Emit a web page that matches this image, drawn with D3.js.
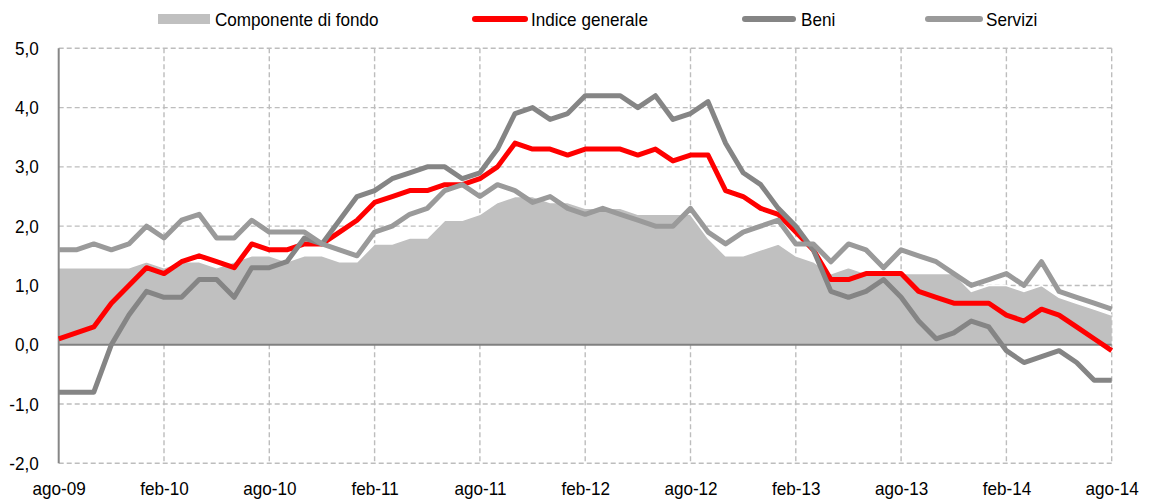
<!DOCTYPE html>
<html>
<head>
<meta charset="utf-8">
<script src="https://cdn.jsdelivr.net/npm/d3@7"></script>
<style>
  html, body { margin: 0; padding: 0; background: #fff; }
  svg { display: block; }
  text { font-family: "Liberation Sans", Arial, sans-serif; fill: #000; }
</style>
</head>
<body>
<svg id="chart" width="1155" height="503"></svg>
<script>
// ---- data ----
const months = [
  "2009-08","2009-09","2009-10","2009-11","2009-12",
  "2010-01","2010-02","2010-03","2010-04","2010-05","2010-06","2010-07","2010-08","2010-09","2010-10","2010-11","2010-12",
  "2011-01","2011-02","2011-03","2011-04","2011-05","2011-06","2011-07","2011-08","2011-09","2011-10","2011-11","2011-12",
  "2012-01","2012-02","2012-03","2012-04","2012-05","2012-06","2012-07","2012-08","2012-09","2012-10","2012-11","2012-12",
  "2013-01","2013-02","2013-03","2013-04","2013-05","2013-06","2013-07","2013-08","2013-09","2013-10","2013-11","2013-12",
  "2014-01","2014-02","2014-03","2014-04","2014-05","2014-06","2014-07","2014-08"
];
const componenteDiFondo = [
  1.3,1.3,1.3,1.3,1.3,1.4,1.3,1.4,1.4,1.3,1.4,1.5,1.5,1.4,1.5,1.5,1.4,1.4,1.7,1.7,1.8,
  1.8,2.1,2.1,2.2,2.4,2.5,2.5,2.4,2.4,2.3,2.3,2.3,2.2,2.2,2.2,2.2,1.8,1.5,1.5,1.6,
  1.7,1.5,1.4,1.2,1.3,1.2,1.2,1.2,1.2,1.2,1.2,0.9,1.0,1.0,0.9,1.0,0.8,0.7,0.6,0.5
];
const indiceGenerale = [
  0.1,0.2,0.3,0.7,1.0,1.3,1.2,1.4,1.5,1.4,1.3,1.7,1.6,1.6,1.7,1.7,1.9,2.1,2.4,2.5,2.6,
  2.6,2.7,2.7,2.8,3.0,3.4,3.3,3.3,3.2,3.3,3.3,3.3,3.2,3.3,3.1,3.2,3.2,2.6,2.5,2.3,
  2.2,1.9,1.6,1.1,1.1,1.2,1.2,1.2,0.9,0.8,0.7,0.7,0.7,0.5,0.4,0.6,0.5,0.3,0.1,-0.1
];
const beni = [
  -0.8,-0.8,-0.8,0.0,0.5,0.9,0.8,0.8,1.1,1.1,0.8,1.3,1.3,1.4,1.8,1.7,2.1,2.5,2.6,2.8,2.9,
  3.0,3.0,2.8,2.9,3.3,3.9,4.0,3.8,3.9,4.2,4.2,4.2,4.0,4.2,3.8,3.9,4.1,3.4,2.9,2.7,
  2.3,2.0,1.6,0.9,0.8,0.9,1.1,0.8,0.4,0.1,0.2,0.4,0.3,-0.1,-0.3,-0.2,-0.1,-0.3,-0.6,-0.6
];
const servizi = [
  1.6,1.6,1.7,1.6,1.7,2.0,1.8,2.1,2.2,1.8,1.8,2.1,1.9,1.9,1.9,1.7,1.6,1.5,1.9,2.0,2.2,
  2.3,2.6,2.7,2.5,2.7,2.6,2.4,2.5,2.3,2.2,2.3,2.2,2.1,2.0,2.0,2.3,1.9,1.7,1.9,2.0,
  2.1,1.7,1.7,1.4,1.7,1.6,1.3,1.6,1.5,1.4,1.2,1.0,1.1,1.2,1.0,1.4,0.9,0.8,0.7,0.6
];
const tickMonths = ["2009-08","2010-02","2010-08","2011-02","2011-08","2012-02","2012-08","2013-02","2013-08","2014-02","2014-08"];
const tickLabels = ["ago-09","feb-10","ago-10","feb-11","ago-11","feb-12","ago-12","feb-13","ago-13","feb-14","ago-14"];
const yTicks = [-2,-1,0,1,2,3,4,5];
const seriesNames = ["Componente di fondo","Indice generale","Beni","Servizi"];

// ---- layout ----
const svg = d3.select("#chart");
const pL = 58.7, pR = 1111.7, pT = 48.3, pB = 463.3;
const x = d3.scalePoint().domain(months).range([pL, pR]);
const y = d3.scaleLinear().domain([-2, 5]).range([pB, pT]);
const fmt = d => (d < 0 ? "-" : "") + Math.abs(d).toFixed(1).replace(".", ",");
const FS = 19, SQ = 0.9; // font size, horizontal condensing (narrow look)
function condense(sel) {
  sel.attr("font-size", FS).attr("font-family", "Liberation Sans, Arial, sans-serif").attr("fill", "#000")
    .each(function () {
      const w = this.getComputedTextLength();
      d3.select(this).attr("textLength", (w * SQ).toFixed(2)).attr("lengthAdjust", "spacingAndGlyphs");
    });
}

// gridlines (under area)
const grid = svg.append("g").attr("stroke", "#bdbdbd").attr("stroke-width", 1.4)
  .attr("stroke-dasharray", "5,3").attr("fill", "none");
yTicks.filter(d => d !== 0).forEach(d => {
  grid.append("line").attr("x1", pL).attr("x2", pR).attr("y1", y(d)).attr("y2", y(d));
});
tickMonths.slice(1).forEach(m => {
  grid.append("line").attr("x1", x(m)).attr("x2", x(m)).attr("y1", pT).attr("y2", pB);
});

// area
const area = d3.area().x((d, i) => x(months[i])).y0(y(0)).y1(d => y(d));
svg.append("path").datum(componenteDiFondo).attr("d", area).attr("fill", "#c0c0c0");
svg.append("path").datum(componenteDiFondo)
  .attr("d", d3.line().x((d, i) => x(months[i])).y(d => y(d)))
  .attr("fill", "none").attr("stroke", "#fff").attr("stroke-width", 1.5);

// axes lines
svg.append("line").attr("x1", pL).attr("x2", pR).attr("y1", y(0)).attr("y2", y(0))
  .attr("stroke", "#808080").attr("stroke-width", 2);
svg.append("line").attr("x1", pL).attr("x2", pL).attr("y1", pT).attr("y2", pB)
  .attr("stroke", "#868686").attr("stroke-width", 2);

// lines
const line = d3.line().x((d, i) => x(months[i])).y(d => y(d));
const lineSeries = [
  { data: indiceGenerale, color: "#ff0000" },
  { data: beni, color: "#858585" },
  { data: servizi, color: "#9a9a9a" }
];
lineSeries.forEach(s => {
  svg.append("path").datum(s.data).attr("d", line).attr("fill", "none")
    .attr("stroke", s.color).attr("stroke-width", 5)
    .attr("stroke-linejoin", "round").attr("stroke-linecap", "butt");
});

// y axis labels
const yAxis = d3.axisLeft(y).tickValues(yTicks).tickFormat(fmt).tickSize(0).tickPadding(20);
const gy = svg.append("g").attr("transform", `translate(${pL},0)`).call(yAxis);
gy.select(".domain").remove();
gy.selectAll("text").call(condense);

// x axis labels
const xAxis = d3.axisBottom(x).tickValues(tickMonths)
  .tickFormat(m => tickLabels[tickMonths.indexOf(m)]).tickSize(0).tickPadding(18);
const gx = svg.append("g").attr("transform", `translate(0,${pB})`).call(xAxis);
gx.select(".domain").remove();
gx.selectAll("text").call(condense);

// legend
const leg = svg.append("g");
const legY = 19;
const legItems = [
  { name: seriesNames[0], x0: 158, x1: 210, tx: 215, type: "area", color: "#c0c0c0" },
  { name: seriesNames[1], x0: 475, x1: 525, tx: 531, type: "line", color: "#ff0000" },
  { name: seriesNames[2], x0: 745, x1: 793, tx: 801, type: "line", color: "#858585" },
  { name: seriesNames[3], x0: 928, x1: 980, tx: 986, type: "line", color: "#9a9a9a" }
];
legItems.forEach(it => {
  if (it.type === "area") {
    leg.append("rect").attr("x", it.x0).attr("y", legY - 5).attr("width", it.x1 - it.x0).attr("height", 10)
      .attr("fill", it.color);
  } else {
    leg.append("line").attr("x1", it.x0).attr("x2", it.x1).attr("y1", legY).attr("y2", legY)
      .attr("stroke", it.color).attr("stroke-width", 6).attr("stroke-linecap", "round");
  }
  leg.append("text").attr("x", it.tx).attr("y", legY).attr("dy", "0.35em").text(it.name).call(condense);
});
</script>
</body>
</html>
